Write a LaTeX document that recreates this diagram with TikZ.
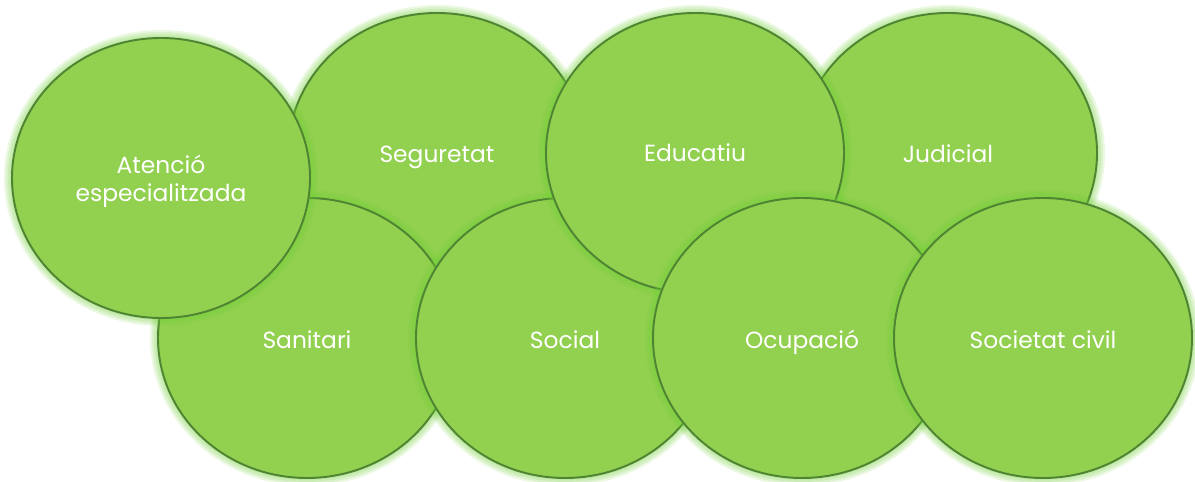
\documentclass[tikz,border=0pt]{standalone}
\usepackage{fontspec}
\setmainfont{Poppins}
\usepackage{tikz}

\definecolor{vennfill}{HTML}{92D050}
\definecolor{vennline}{HTML}{4E8432}
\definecolor{vennglow}{HTML}{70CF35}

\begin{document}
\begin{tikzpicture}[x=0.02cm, y=-0.02cm,
    label text/.style={text=white, font=\fontsize{13.3}{16.4}\selectfont,
      align=center, anchor=base, inner sep=0pt}]
  \useasboundingbox (0,0) rectangle (1195,482);

  % ---- circles, back to front ---------------------
  \foreach \name/\cx/\cy/\ly/\txt in {
      seguretat/437/153/163/Seguretat,
      judicial/948/153/163/Judicial,
      sanitari/307/338/349/Sanitari,
      atencio/161/178/202/{Atenció\\especialitzada},
      social/565/338/349/Social,
      educatiu/695/153/162/Educatiu,
      ocupacio/802/338/349/Ocupació,
      societat/1043/338/349/Societat civil}{
    % soft glow round the edge
    \foreach \g in {8,6,4,2}
      \fill[vennglow, opacity=0.14] (\cx,\cy) ellipse [x radius=149+\g, y radius=140+\g];
    \filldraw[fill=vennfill, draw=vennline, line width=1.1pt] (\cx,\cy) ellipse [x radius=149, y radius=140];
    % ---- label -------------------------------------
    \node[label text] (\name) at (\cx,\ly) {\txt};
  }
\end{tikzpicture}
\end{document}
